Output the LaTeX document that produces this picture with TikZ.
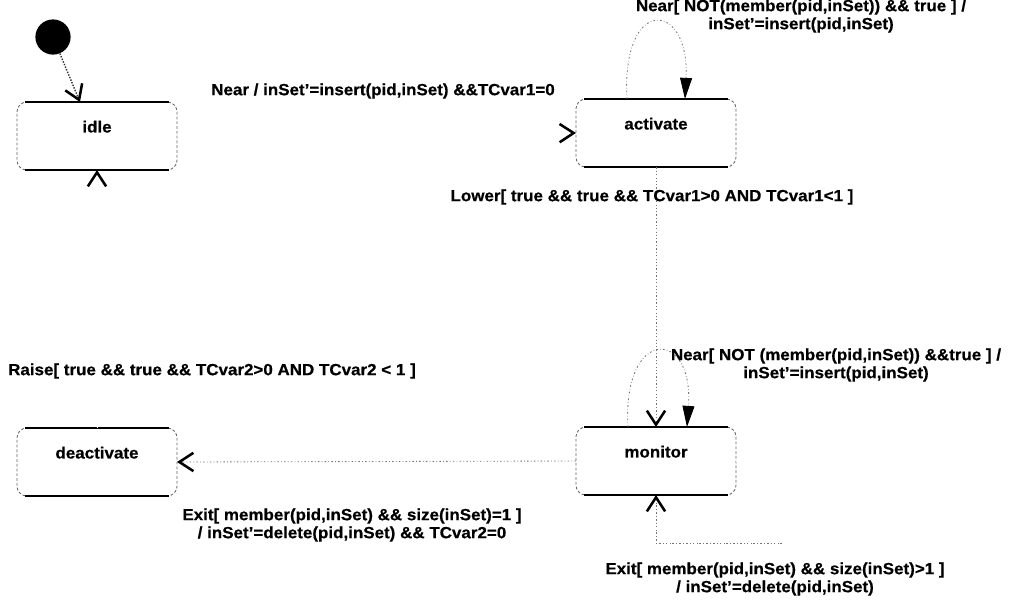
\documentclass[tikz,border=0pt]{standalone}
\usepackage{fontspec}
\setmainfont{Liberation Sans}[FakeStretch=1.05,FakeBold=0.5]
\usetikzlibrary{arrows.meta,calc}
\tikzset{
  openV/.tip={Straight Barb[length=10pt,width=13pt,line width=1.8pt,color=black]},
  filledTri/.tip={Triangle[length=15pt,width=8.5pt,color=black]},
  lbl/.style={font=\bfseries\fontsize{11.5}{12.8}\selectfont, align=center, inner sep=0pt},
  state/.style={lbl, draw=black!60, line width=0.6pt, dash pattern=on 2pt off 1.4pt,
    rounded corners=7pt, minimum width=4cm, minimum height=1.7cm, outer sep=0pt,
    text height=8.5pt, text depth=13.5pt},
  edgesolid/.style={draw=black, line width=1.3pt},
  initst/.style={circle, fill=black, draw=none, minimum size=0.88cm, inner sep=0pt},
  initline/.style={draw=black!80, line width=1pt, densely dotted},
  conn/.style={draw=black!55, line width=0.6pt, dash pattern=on 1.2pt off 1.6pt on 0.4pt off 1.6pt},
  ghost/.style={draw=white, line width=0.5pt},
}
\begin{document}
\begin{tikzpicture}[x=0.025cm,y=-0.025cm]
\useasboundingbox (0,0) rectangle (1013,600);
% states
\node[initst] (init) at (53,37) {};
\node[state] (idle) at (97,136) {idle};
\node[state] (activate) at (656,133) {activate};
\node[state] (monitor) at (656,461) {monitor};
\node[state] (deactivate) at (97,462) {deactivate};
\foreach \n in {idle,activate,monitor,deactivate}{
  \draw[edgesolid] ([xshift=6pt]\n.north west) -- ([xshift=-6pt]\n.north east);
  \draw[edgesolid] ([xshift=6pt]\n.south west) -- ([xshift=-6pt]\n.south east);
}
% connectors
\coordinate (idleIn) at ($(idle.north west)+(63,0)$);
\draw[initline,-openV] (init) -- (idleIn);
\draw[ghost,-openV] (idle.east) -- (activate.west);
\draw[conn,-filledTri] ($(activate.north west)+(51,0)$) .. controls (621,-5) and (690,0) .. ($(activate.north west)+(109,0)$);
\draw[conn,-openV] (activate.south) -- (monitor.north);
\draw[conn,-filledTri] ($(monitor.north west)+(52,0)$) .. controls (622,327) and (694,327) .. ($(monitor.north west)+(111,0)$);
\draw[conn,-openV] (monitor.west) -- (deactivate.east);
\draw[ghost,-openV] (deactivate.north) -- (idle.south);
\coordinate (mloop) at (782,543);
\draw[ghost] (monitor.east) -| (mloop);
\draw[conn,-openV] (mloop) -| (monitor.south);
% labels
\node[lbl] (tA) at (383,91) {Near / inSet'=insert(pid,inSet) \&\&TCvar1=0};
\node[lbl] (tAloop) at (801,16) {Near[ NOT(member(pid,inSet)) \&\& true ] /\\inSet'=insert(pid,inSet)};
\node[lbl] (tLower) at (652,197) {Lower[ true \&\& true \&\& TCvar1>0 AND TCvar1<1 ]};
\node[lbl] (tMloop) at (836,365) {Near[ NOT (member(pid,inSet)) \&\&true ] /\\inSet'=insert(pid,inSet)};
\node[lbl] (tRaise) at (212,371) {Raise[ true \&\& true \&\& TCvar2>0 AND TCvar2 < 1 ]};
\node[lbl] (tExitA) at (352,525) {Exit[ member(pid,inSet) \&\& size(inSet)=1 ]\\/ inSet'=delete(pid,inSet) \&\& TCvar2=0};
\node[lbl] (tExitB) at (775,579) {Exit[ member(pid,inSet) \&\& size(inSet)>1 ]\\/ inSet'=delete(pid,inSet)};
\end{tikzpicture}
\end{document}
